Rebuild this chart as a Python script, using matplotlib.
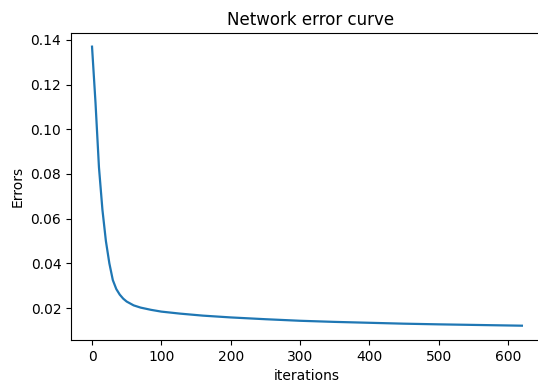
import matplotlib
matplotlib.use('Agg')
import matplotlib.pyplot as plt

# error values
iterations = [0, 5, 10, 15, 20, 25, 30, 35, 40, 45, 50, 60, 70, 85, 100,
              127, 160, 200, 250, 300, 350, 400, 450, 500, 560, 620]
errors = [0.137, 0.112, 0.083, 0.064, 0.050, 0.040, 0.0325, 0.0285,
          0.0260, 0.0242, 0.0229, 0.0212, 0.0202, 0.0192, 0.0184, 0.0175,
          0.0166, 0.0158, 0.0150, 0.0143, 0.0138, 0.0134, 0.0130, 0.0127,
          0.0124, 0.0121]

fig = plt.figure(figsize=(5.38, 3.83), dpi=100)
# right edge of the axes runs past the canvas, as in the cropped original
ax = fig.add_axes([0.132, 0.1123, 0.89, 0.8015])
ax.plot(iterations, errors, color='#1f77b4', linewidth=1.6)
ax.set_xlim(-30.3, 660.3)
ax.set_ylim(0.0057, 0.1431)
ax.spines['right'].set_visible(False)
ax.set_title('Network error curve')
ax.set_xlabel('iterations', x=0.492)
ax.set_ylabel('Errors')
ax.set_xticks([0, 100, 200, 300, 400, 500, 600])
ax.set_yticks([0.02, 0.04, 0.06, 0.08, 0.10, 0.12, 0.14])

fig.savefig('out.png', dpi=100)
